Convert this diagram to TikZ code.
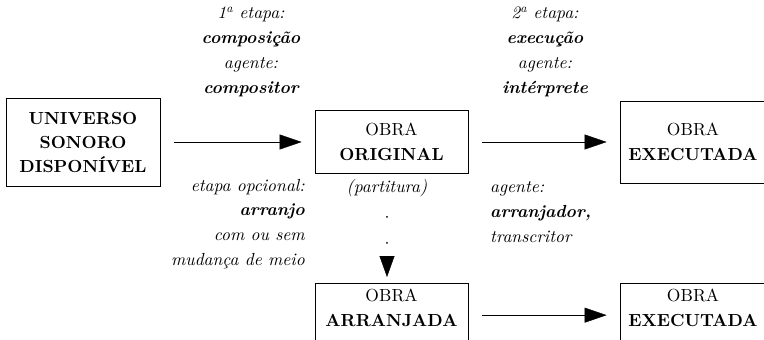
\documentclass[tikz,border=0pt]{standalone}
\usepackage{fontspec}
\setmainfont{lmroman10-regular}[Extension=.otf, BoldFont=lmroman10-bold, ItalicFont=lmroman10-italic, BoldItalicFont=lmroman10-bolditalic]
\usetikzlibrary{arrows.meta}
\begin{document}
\begin{tikzpicture}[x=1pt,y=-1pt,
  box/.style={draw, line width=0.8pt, inner sep=0pt, align=center, font=\fontsize{17.5}{25}\selectfont},
  lowbox/.style={box, anchor=north, inner ysep=6pt, text depth=14pt},
  lab/.style={inner sep=0pt, font=\fontsize{17.5}{24.8}\selectfont\itshape},
  arr/.style={-{Triangle[length=22pt,width=15pt,line width=0.4pt]}, line width=0.9pt, shorten <=14pt, shorten >=13pt},
  dotarr/.style={-{Triangle[length=21pt,width=15pt,line width=0.4pt]}, line width=2pt, line cap=round,
    dash pattern=on 0pt off 26pt, dash phase=6pt, shorten >=6pt}]
\clip (0,0) rectangle (764,340);
% boxes
\node[box, minimum width=154pt, minimum height=88pt, font=\fontsize{17.5}{24}\selectfont\bfseries] (univ) at (83,142) {UNIVERSO\\SONORO\\DISPONÍVEL};
\node[box, minimum width=153pt, minimum height=63pt] (orig) at (391.5,142) {OBRA\\\textbf{ORIGINAL}};
\node[box, minimum width=146pt, minimum height=82pt] (exec) at (693,142) {OBRA\\\textbf{EXECUTADA}};
\node[lowbox, minimum width=153pt] (arrj) at (391.5,283) {OBRA\\\textbf{ARRANJADA}};
\node[lowbox, minimum width=146pt] (exec2) at (693,283) {OBRA\\\textbf{EXECUTADA}};
% labels
\node[lab, align=center] (l1) at (251,52) {1\textsuperscript{a} etapa:\\\textbf{composição}\\agente:\\\textbf{compositor}};
\node[lab, align=center] (l2) at (545,52) {2\textsuperscript{a} etapa:\\\textbf{execução}\\agente:\\\textbf{intérprete}};
\node[lab, align=right, anchor=east] (l3) at (305,224) {etapa opcional:\\\textbf{arranjo}\\com ou sem\\mudança de meio};
\node[lab, align=left, anchor=west] (l4) at (490,212) {agente:\\\textbf{arranjador,}\\transcritor};
\node[lab] (part) at (387,188) {(partitura)};
% connectors
\draw[arr] (univ) -- (orig);
\draw[arr] (orig) -- (exec);
\draw[arr] (arrj) -- (exec2);
\draw[dotarr] (part.south) -- (part.south |- arrj.north);
\end{tikzpicture}
\end{document}
